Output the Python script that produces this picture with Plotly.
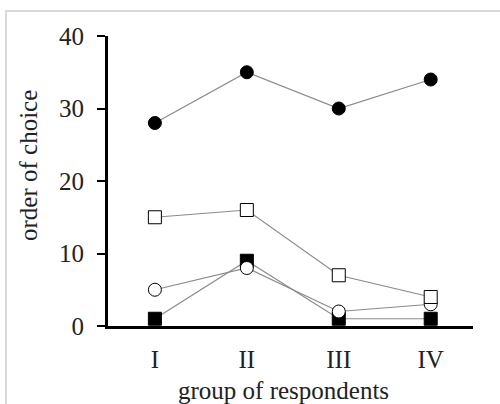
import plotly.graph_objects as go

groups = ["I", "II", "III", "IV"]
xpos = [0, 1, 2, 3]
filled_circle = [28, 35, 30, 34]
open_square = [15, 16, 7, 4]
open_circle = [5, 8, 2, 3]
filled_square = [1, 9, 1, 1]
y_ticks = [0, 10, 20, 30, 40]
x_title = "group of respondents"
y_title = "order of choice"

FONT = "Liberation Serif, Times New Roman, serif"
TXT = "#222"
LINE = dict(color="#8a8a8a", width=1.2)

# plot area in pixels
L, R, T, B = 108, 473, 36, 326
W, H = 500, 404

fig = go.Figure()

def add(vals, symbol, fill):
    fig.add_trace(go.Scatter(
        x=xpos, y=vals, mode="lines+markers", line=LINE,
        marker=dict(symbol=symbol, size=13, color=fill,
                    line=dict(color="black", width=1)),
        cliponaxis=False, showlegend=False))

add(filled_square, "square", "black")
add(open_circle, "circle", "white")
add(open_square, "square", "white")
add(filled_circle, "circle", "black")

def px(xp):
    return (xp - L) / (R - L)

def py(yp):
    return (B - yp) / (B - T)

fig.update_layout(
    width=W, height=H,
    margin=dict(l=L, r=W - R, t=T, b=H - B, autoexpand=False),
    paper_bgcolor="white", plot_bgcolor="white",
    font=dict(family=FONT, color=TXT, size=25),
    xaxis=dict(range=[-0.51, 3.46], tickvals=xpos, ticktext=groups,
               showgrid=False, zeroline=False, showline=True,
               linecolor="black", linewidth=3, ticks="", automargin=False,
               tickfont=dict(size=25, family=FONT, color=TXT),
               ticklabelstandoff=9),
    yaxis=dict(range=[0, 40], tickvals=y_ticks, showgrid=False,
               zeroline=False, showline=True, linecolor="black",
               linewidth=3, ticks="outside", ticklen=8, tickwidth=2,
               tickcolor="black", automargin=False,
               tickfont=dict(size=25, family=FONT, color=TXT),
               ticklabelstandoff=8),
    annotations=[
        dict(text=x_title, xref="paper", yref="paper", x=px(283.5), y=py(390),
             xanchor="center", yanchor="middle", showarrow=False,
             font=dict(size=25, family=FONT, color=TXT)),
        dict(text=y_title, xref="paper", yref="paper", x=px(28), y=py(166),
             xanchor="center", yanchor="middle", showarrow=False,
             textangle=-90, font=dict(size=25, family=FONT, color=TXT)),
    ],
    shapes=[dict(type="rect", xref="paper", yref="paper",
                 x0=px(6), x1=1.3, y0=-0.5, y1=py(11),
                 line=dict(color="#d9d9d9", width=2), layer="below")],
)

fig.write_html("out.html", config={"displayModeBar": False},
               post_script="document.body.style.margin='0';")
